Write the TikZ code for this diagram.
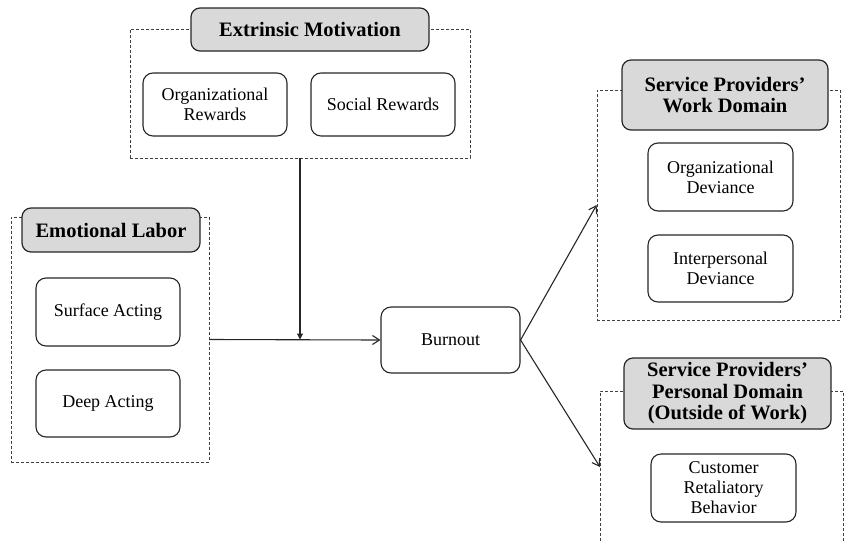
\documentclass[tikz,border=0pt]{standalone}
\usepackage{fontspec}
\setmainfont{Liberation Serif}
\usepackage{tikz}
\usetikzlibrary{arrows.meta, positioning, calc}

\begin{document}
\begin{tikzpicture}[x=1pt,y=-1pt,
    groupbox/.style={rectangle,draw=black!75,dash pattern=on 3pt off 2pt,line width=0.8pt,inner sep=0pt},
    titlebox/.style={rectangle,draw=black!85,fill=black!15,rounded corners=9pt,line width=1.2pt,align=center,inner sep=0pt,font=\bfseries\fontsize{20.5}{21.5}\selectfont},
    itembox/.style={rectangle,draw=black!85,fill=white,rounded corners=10pt,line width=1.1pt,align=center,inner sep=0pt,font=\fontsize{18}{20}\selectfont},
    link/.style={line width=1.1pt,draw=black!85}]
    \useasboundingbox (0,0) rectangle (845,541);

    % Gruppi tratteggiati
    \node[groupbox,minimum width=340pt,minimum height=129pt] (extrinsic) at (300,93.5) {};
    \node[groupbox,minimum width=198pt,minimum height=245pt] (emotional) at (110,339.5) {};
    \node[groupbox,minimum width=243pt,minimum height=230pt] (work) at (718.5,205) {};
    \draw[groupbox] (600,541) |- (843,391) -- (843,541);

    % Titoli
    \node[titlebox,minimum width=238pt,minimum height=43pt] (extTitle) at (310,29.5) {Extrinsic Motivation};
    \node[titlebox,minimum width=178pt,minimum height=44pt] (emoTitle) at (111,230) {Emotional Labor};
    \node[titlebox,minimum width=206pt,minimum height=70pt] (workTitle) at (725,95) {Service Providers'\\Work Domain};
    \node[titlebox,minimum width=207pt,minimum height=71pt] (persTitle) at (727.5,393.5) {Service Providers'\\Personal Domain\\(Outside of Work)};

    % Elementi
    \node[itembox,minimum width=144pt,minimum height=63pt] (orgRewards) at (215,104.5) {Organizational\\Rewards};
    \node[itembox,minimum width=144pt,minimum height=63pt] (socRewards) at (383,104.5) {Social Rewards};
    \node[itembox,minimum width=144pt,minimum height=68pt] (surface) at (108,312) {Surface Acting};
    \node[itembox,minimum width=144pt,minimum height=67pt] (deep) at (108,403.5) {Deep Acting};
    \node[itembox,minimum width=139pt,minimum height=66pt] (burnout) at (450.5,340) {Burnout};
    \node[itembox,minimum width=145pt,minimum height=68pt] (orgDev) at (720.5,177) {Organizational\\Deviance};
    \node[itembox,minimum width=145pt,minimum height=67pt] (interDev) at (720.5,268.5) {Interpersonal\\Deviance};
    \node[itembox,minimum width=145pt,minimum height=68pt] (customer) at (723.5,488) {Customer\\Retaliatory\\Behavior};

    % Connessioni
    \coordinate (join) at (extrinsic.south |- emotional.east);
    \coordinate (persIn) at (600,467);
    \draw[link,-{Straight Barb[length=7pt,width=9pt]}] (emotional.east) -- (burnout.west);
    \draw[link,-{Triangle[length=6pt,width=6pt]}] (extrinsic.south) -- (join);
    \draw[link,-{Straight Barb[length=7pt,width=9pt]}] (burnout.east) -- (work.west);
    \draw[link,-{Straight Barb[length=7pt,width=9pt]}] (burnout.east) -- (persIn);
\end{tikzpicture}
\end{document}
